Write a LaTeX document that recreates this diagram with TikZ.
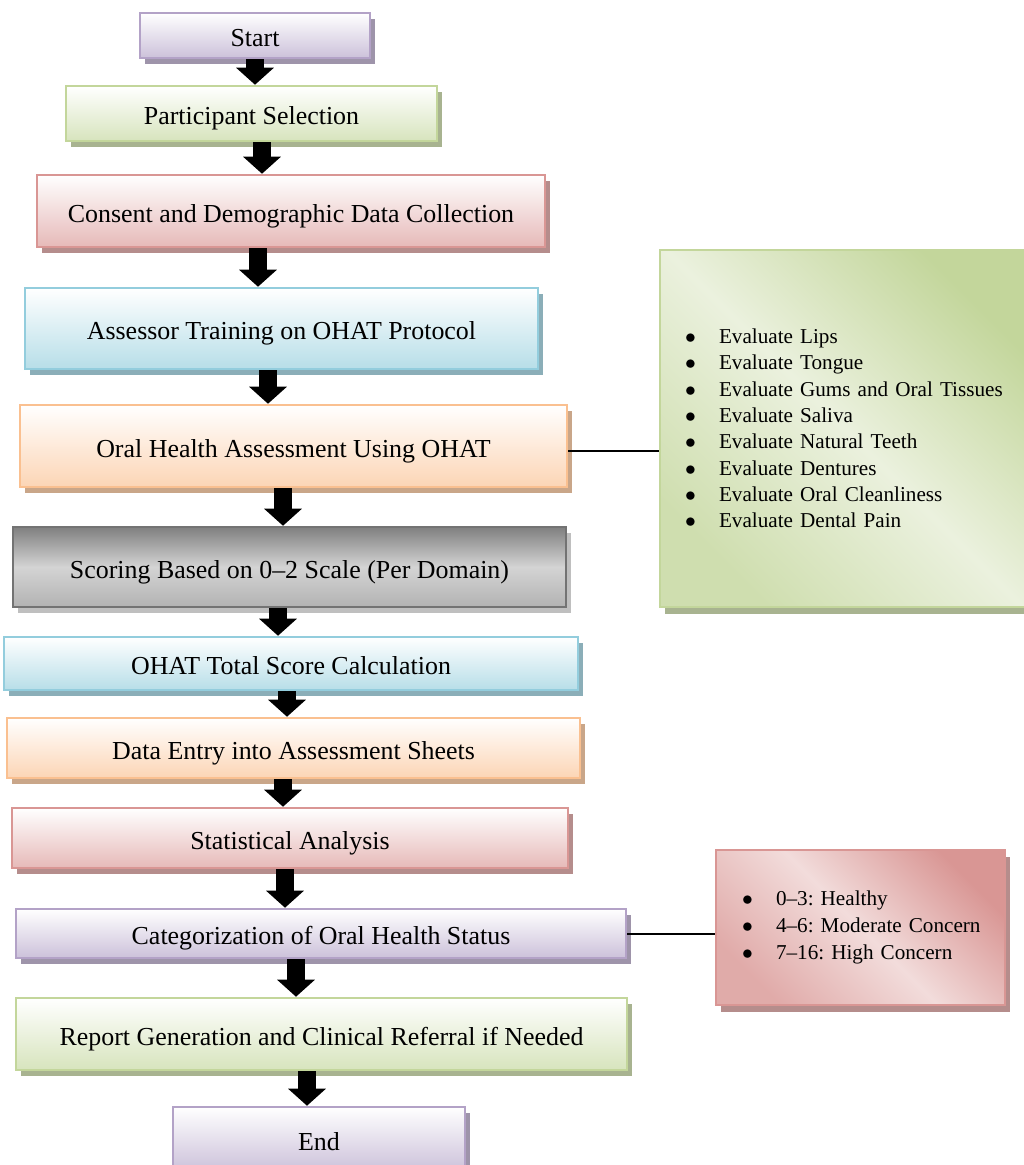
\documentclass[tikz,border=0pt]{standalone}
\usepackage{fontspec}
\setmainfont{Liberation Serif}
\usepackage{xcolor}
\usetikzlibrary{arrows.meta, shadows, calc}

\newdimen\px
\px=0.463pt

\definecolor{purpEdge}{HTML}{B3A2C7}
\definecolor{purpFill}{HTML}{CCC1DA}
\definecolor{grnEdge}{HTML}{C3D69B}
\definecolor{grnFill}{HTML}{D7E4BD}
\definecolor{redEdge}{HTML}{D99694}
\definecolor{redFill}{HTML}{E6B9B8}
\definecolor{bluEdge}{HTML}{93CDDD}
\definecolor{bluFill}{HTML}{B7DEE8}
\definecolor{orgEdge}{HTML}{FAC090}
\definecolor{orgFill}{HTML}{FCD5B5}
\definecolor{grnLight}{HTML}{EBF1DE}
\definecolor{redLight}{HTML}{F2DCDB}

\newcommand{\bitem}[1]{\mbox{\makebox[34\px][l]{$\bullet$}#1}}

\begin{document}
\begin{tikzpicture}[
    x=0.463pt, y=-0.463pt,
    box/.style={rectangle, line width=2.5\px, align=center, inner sep=0pt, text height=10.2pt, text depth=0pt,
        font=\fontsize{12}{14}\selectfont},
    stage/.style={box, draw=#1Edge, top color=white, bottom color=#1Fill,
        drop shadow={shadow xshift=5\px, shadow yshift=-6\px, fill=#1Edge!60!gray, opacity=1}},
    darkstage/.style={box, draw=black!55, top color=black!50, bottom color=black!30, middle color=black!17,
        drop shadow={shadow xshift=5\px, shadow yshift=-6\px, fill=black!25, opacity=1}},
    note/.style={rectangle, line width=2\px, draw=#1Edge, align=left, font=\fontsize{9.8}{12.2}\selectfont\frenchspacing,
        top color=#1Edge, bottom color=#1Edge!70!#1Light, middle color=#1Light, shading angle=-45,
        drop shadow={shadow xshift=5\px, shadow yshift=-7\px, fill=#1Edge!60!gray, opacity=1}},
    blockarrow/.style={line width=8.3pt, -{Triangle[width=17.1pt, length=7.9pt]}},
    link/.style={draw=black, line width=2\px}
]
    \useasboundingbox (0,0) rectangle (1023,1165);

    \node [stage=purp, minimum width=230\px, minimum height=45\px] (start) at (255, 35.5) {Start};
    \node [stage=grn, minimum width=371\px, minimum height=55\px] (part) at (251.5, 113.5) {Participant Selection};
    \node [stage=red, minimum width=508\px, minimum height=72\px] (cons) at (291, 211) {Consent and Demographic Data Collection};
    \node [stage=blu, minimum width=513\px, minimum height=81\px] (train) at (281.5, 328.5) {Assessor Training on OHAT Protocol};
    \node [stage=org, minimum width=547\px, minimum height=82\px] (assess) at (293.5, 446) {Oral Health Assessment Using OHAT};
    \node [darkstage, minimum width=553\px, minimum height=80\px] (score) at (289.5, 567) {Scoring Based on 0–2 Scale (Per Domain)};
    \node [stage=blu, minimum width=574\px, minimum height=53\px] (total) at (291, 663.5) {OHAT Total Score Calculation};
    \node [stage=org, minimum width=573\px, minimum height=60\px] (entry) at (293.5, 748) {Data Entry into Assessment Sheets};
    \node [stage=red, minimum width=556\px, minimum height=60\px] (stats) at (290, 838) {Statistical Analysis};
    \node [stage=purp, minimum width=610\px, minimum height=49\px] (categ) at (321, 933.5) {Categorization of Oral Health Status};
    \node [stage=grn, minimum width=611\px, minimum height=72\px] (report) at (321.5, 1034) {Report Generation and Clinical Referral if Needed};
    \node [stage=purp, minimum width=292\px, minimum height=64\px] (end) at (319, 1139) {End};

    % side notes
    \node [note=grn, text width=320\px, inner xsep=25\px, minimum height=357\px] (domains) at (845, 428.5) {%
        \bitem{Evaluate Lips}\\
        \bitem{Evaluate Tongue}\\
        \bitem{Evaluate Gums and Oral Tissues}\\
        \bitem{Evaluate Saliva}\\
        \bitem{Evaluate Natural Teeth}\\
        \bitem{Evaluate Dentures}\\
        \bitem{Evaluate Oral Cleanliness}\\
        \bitem{Evaluate Dental Pain}};
    \node [note=red, text width=237\px, inner xsep=26\px, minimum height=155\px,
        font=\fontsize{9.8}{12.5}\selectfont\frenchspacing] (ranges) at (860.5, 927.5) {%
        \bitem{0–3: Healthy}\\
        \bitem{4–6: Moderate Concern}\\
        \bitem{7–16: High Concern}};

    \foreach \a/\b/\xx in {start/part/255, part/cons/262, cons/train/258, train/assess/268,
        assess/score/283, score/total/278, total/entry/287, entry/stats/283,
        stats/categ/285, categ/report/296, report/end/307}
        \draw [blockarrow] (\a.south -| \xx,0) -- (\b.north -| \xx,0);

    \draw [link] ([yshift=-5\px]assess.east) -- ([yshift=-5\px]assess.east -| domains.west);
    \draw [link] (categ.east) -- (categ.east -| ranges.west);
\end{tikzpicture}
\end{document}
